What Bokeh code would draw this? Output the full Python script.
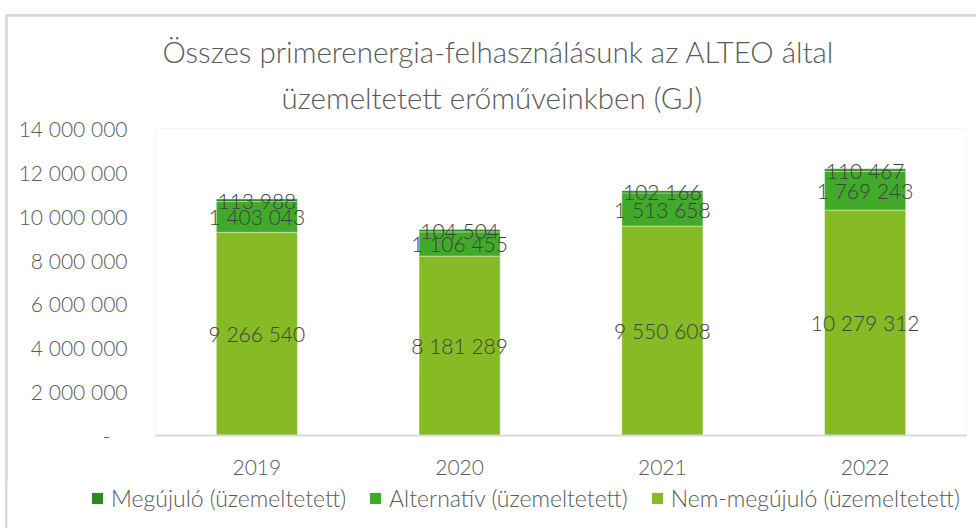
from bokeh.plotting import figure
from bokeh.layouts import column
from bokeh.models import (ColumnDataSource, FactorRange, Range1d, FixedTicker, LabelSet,
                          Legend, LegendItem, Title)
from bokeh.core.properties import value
from bokeh.embed import file_html
from bokeh.resources import INLINE

years = ["2019", "2020", "2021", "2022"]
nem_megujulo = [9266540, 8181289, 9550608, 10279312]
alternativ = [1403043, 1106455, 1513658, 1769243]
megujulo = [113988, 104504, 102166, 110467]
series_names = ["Nem-megújuló (üzemeltetett)", "Alternatív (üzemeltetett)", "Megújuló (üzemeltetett)"]
y_ticks = [0, 2000000, 4000000, 6000000, 8000000, 10000000, 12000000, 14000000]
y_tick_labels = ["-\u00a0\u00a0\u00a0", "2 000 000", "4 000 000", "6 000 000", "8 000 000",
                 "10 000 000", "12 000 000", "14 000 000"]
title_lines = ["Összes primerenergia-felhasználásunk az ALTEO által",
               "üzemeltetett erőműveinkben (GJ)"]

colors = ["#86BB26", "#42AA2B", "#2C8A1E"]
FONT = "Lato Light, Lato"

def fmt(v):
    return f"{v:,}".replace(",", " ")

src = ColumnDataSource(dict(
    years=years, nem=nem_megujulo, alt=alternativ, meg=megujulo,
    nem_mid=[a / 2 for a in nem_megujulo],
    alt_mid=[a + b / 2 for a, b in zip(nem_megujulo, alternativ)],
    meg_mid=[a + b + c / 2 for a, b, c in zip(nem_megujulo, alternativ, megujulo)],
    nem_lbl=[fmt(v) for v in nem_megujulo],
    alt_lbl=[fmt(v) for v in alternativ],
    meg_lbl=[fmt(v) for v in megujulo],
))

W, H = 969, 468
p = figure(width=W, height=H, x_range=FactorRange(*years, range_padding=0),
           y_range=Range1d(0, 14000000), output_backend="svg", toolbar_location=None,
           min_border_left=148, min_border_right=10, min_border_top=112, min_border_bottom=49,
           margin=(2, 0, 0, 2))
p.frame_align = False
p.outline_line_color = None
p.xgrid.grid_line_color = None
p.ygrid.grid_line_color = None

rs = p.vbar_stack(["nem", "alt", "meg"], x="years", width=0.4, color=colors, source=src,
                  line_color="#ffffff", line_alpha=0.4, line_width=1)

for col, mid in [("nem_lbl", "nem_mid"), ("alt_lbl", "alt_mid"), ("meg_lbl", "meg_mid")]:
    p.add_layout(LabelSet(x="years", y=mid, text=col, source=src, text_align="center",
                          text_baseline="middle", text_font=value(FONT),
                          text_font_size="21px", text_color="#404040"))

# axes
p.yaxis.ticker = FixedTicker(ticks=y_ticks)
p.yaxis.major_label_overrides = {t: l for t, l in zip(y_ticks, y_tick_labels)}
p.yaxis.axis_line_color = None
p.yaxis.major_tick_line_color = None
p.yaxis.minor_tick_line_color = None
p.yaxis.major_tick_out = 0
p.yaxis.major_tick_in = 0
p.yaxis.major_label_standoff = 28
p.yaxis.major_label_text_font = FONT
p.yaxis.major_label_text_font_size = "21px"
p.yaxis.major_label_text_color = "#595959"

p.xaxis.axis_line_color = "#D9D9D9"
p.xaxis.axis_line_width = 2
p.xaxis.major_tick_line_color = None
p.xaxis.minor_tick_line_color = None
p.xaxis.major_tick_out = 0
p.xaxis.major_tick_in = 0
p.xaxis.major_label_standoff = 24
p.xaxis.major_label_text_font = FONT
p.xaxis.major_label_text_font_size = "21px"
p.xaxis.major_label_text_color = "#595959"

# title: two lines (the one added with add_layout sits closer to the frame)
p.title = Title(text=title_lines[0], align="left", offset=7, standoff=-10,
                text_font=FONT, text_font_size="29.5px", text_color="#595959",
                text_font_style="normal")
p.add_layout(Title(text=title_lines[1], align="left", offset=126, standoff=28,
                   text_font=FONT, text_font_size="29.5px", text_color="#595959",
                   text_font_style="normal"), "above")

# legend in a separate strip below the chart
LH = 46
lg = figure(width=W, height=LH, x_range=Range1d(0, 1), y_range=Range1d(0, 1),
            output_backend="svg", toolbar_location=None,
            x_axis_location=None, y_axis_location=None,
            min_border=0, min_border_left=0, min_border_right=0,
            min_border_top=0, min_border_bottom=0, margin=(-2, 0, 0, 2))
lg.frame_align = False
lg.outline_line_color = None
lg.grid.visible = False
hidden = ColumnDataSource(dict(x=[-10], top=[0]))
dummies = [lg.vbar(x="x", top="top", width=0.1, fill_color=c, line_color=None, source=hidden)
           for c in colors]

items = [LegendItem(label=series_names[2], renderers=[dummies[2]]),
         LegendItem(label=series_names[1], renderers=[dummies[1]]),
         LegendItem(label=series_names[0], renderers=[dummies[0]])]
legend = Legend(items=items, orientation="horizontal", location=(83, 16),
                glyph_width=14, glyph_height=14, label_standoff=7, spacing=22,
                padding=0, margin=0, border_line_color=None, background_fill_alpha=0,
                label_text_font=FONT, label_text_font_size="23px", label_text_color="#595959")
lg.add_layout(legend, "center")

page = column(p, lg, margin=(14, 0, 0, 5), spacing=0, styles={"background-color": "#D9D9D9"})

open("out.html", "w").write(file_html(page, INLINE))
